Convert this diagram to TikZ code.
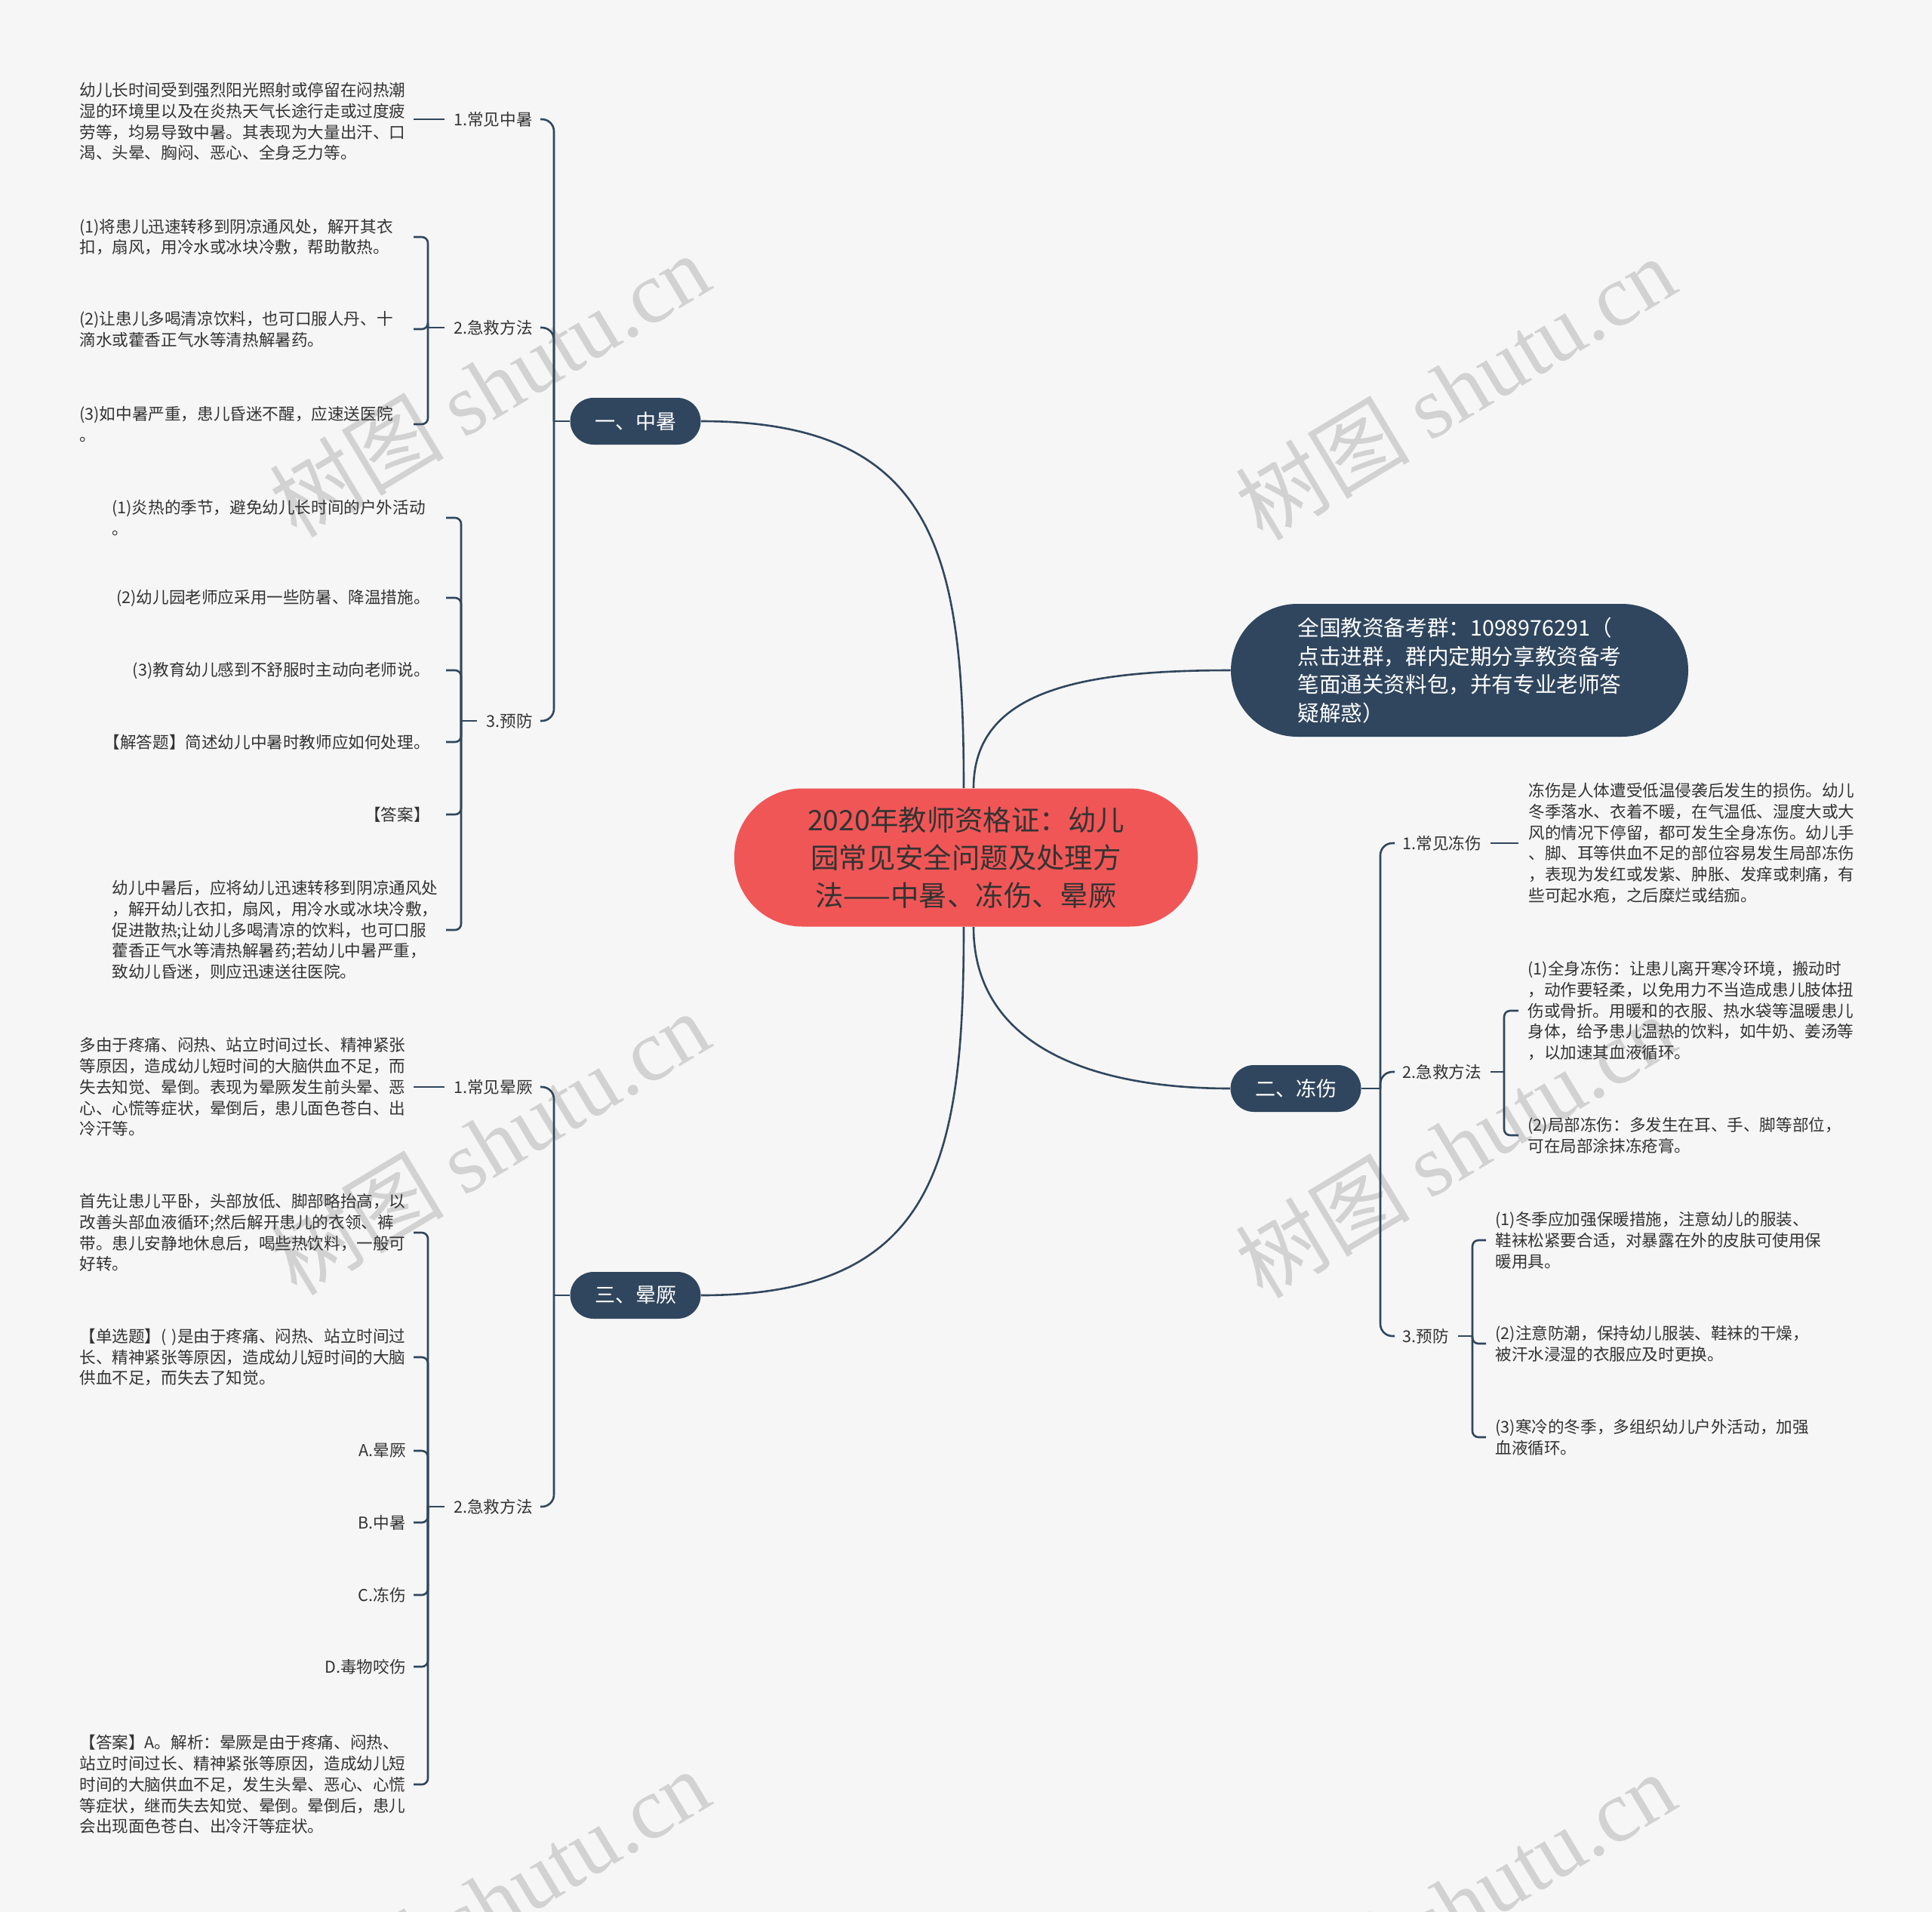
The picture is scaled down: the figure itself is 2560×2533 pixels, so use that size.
\documentclass[tikz,border=0pt]{standalone}
\usepackage{fontspec}
\setmainfont{Noto Sans CJK SC}
\newfontfamily\wmserif{Liberation Serif}
\definecolor{bgcol}{HTML}{F6F6F6}
\definecolor{navy}{HTML}{30465E}
\definecolor{rootred}{HTML}{F05656}
\definecolor{inkgray}{HTML}{333333}
\definecolor{wmgray}{HTML}{D2D2D2}

\begin{document}
\begin{tikzpicture}[
  x=0.5pt, y=-0.5pt,
  root/.style={
    fill=rootred, rounded corners=45pt, minimum width=307pt, minimum height=91.5pt,
    align=center, text=inkgray, font=\fontsize{18.7}{25}\selectfont,
  },
  topic/.style={
    fill=navy, text=white, rounded corners=15.5pt, minimum width=86.5pt,
    minimum height=31pt, font=\fontsize{13.5}{16}\selectfont,
  },
  group/.style={
    fill=navy, text=white, rounded corners=44pt, minimum width=303pt,
    minimum height=88pt, align=left, font=\fontsize{14.3}{18.75}\selectfont,
  },
  sub/.style={inner sep=0pt, text=inkgray, font=\fontsize{10.8}{13.9}\selectfont},
  leaf/.style={inner sep=0pt, text=inkgray, align=left, font=\fontsize{10.8}{13.9}\selectfont},
  para/.style={leaf, text width=220pt},
  link/.style={draw=navy, line width=1.3pt},
  brace/.style={link, rounded corners=4pt},
  trunk/.style={link, rounded corners=8pt},
  wmark/.style={text=wmgray, rotate=31, font=\fontsize{58}{60}\selectfont}
]
\useasboundingbox (0,0) rectangle (2560,2533);
\fill[bgcol] (0,0) rectangle (2560,2533);

% watermarks
\foreach \wx/\wy [count=\i] in {648/510, 1928/514, 648/1514, 1928/1518, 648/2518, 1928/2522}
  \node[wmark] (w\i) at (\wx,\wy) {树图 {\wmserif shutu.cn}};

% centre and main topics
\node[root] (root) at (1280,1136) {2020年教师资格证：幼儿\\园常见安全问题及处理方\\法——中暑、冻伤、晕厥};
\node[group] (n0) at (1934,888) {全国教资备考群：1098976291（\\点击进群，群内定期分享教资备考\\笔面通关资料包，并有专业老师答\\疑解惑）};
\node[topic] (n1) at (842,558) {一、中暑};
\node[topic] (n2) at (1717,1442) {二、冻伤};
\node[topic] (n3) at (842,1716) {三、晕厥};

% tick ends
\coordinate (ta) at (548,0);
\coordinate (tb) at (591,0);
\coordinate (tc) at (2012,0);
\coordinate (td) at (1969,0);

% 一、中暑
\coordinate (h1) at (734,558);
\node[sub, anchor=east] (a1) at (706,158) {1.常见中暑};
\node[sub, anchor=east] (a2) at (706,434) {2.急救方法};
\node[sub, anchor=east] (a3) at (706,955) {3.预防};
\node[para, anchor=west] (a1t) at (105,161) {幼儿长时间受到强烈阳光照射或停留在闷热潮\\湿的环境里以及在炎热天气长途行走或过度疲\\劳等，均易导致中暑。其表现为大量出汗、口\\渴、头晕、胸闷、恶心、全身乏力等。};
\coordinate (a2h) at (567,434);
\node[para, anchor=west] (a2a) at (105,314) {(1)将患儿迅速转移到阴凉通风处，解开其衣\\扣，扇风，用冷水或冰块冷敷，帮助散热。};
\node[para, anchor=west] (a2b) at (105,436) {(2)让患儿多喝清凉饮料，也可口服人丹、十\\滴水或藿香正气水等清热解暑药。};
\node[para, anchor=west] (a2c) at (105,562) {(3)如中暑严重，患儿昏迷不醒，应速送医院\\。};
\coordinate (a3h) at (611,955);
\node[para, anchor=west] (a3a) at (148,686) {(1)炎热的季节，避免幼儿长时间的户外活动\\。};
\node[leaf, anchor=east] (a3b) at (570,792) {(2)幼儿园老师应采用一些防暑、降温措施。};
\node[leaf, anchor=east] (a3c) at (570,888) {(3)教育幼儿感到不舒服时主动向老师说。};
\node[leaf, anchor=east] (a3d) at (570,983) {【解答题】简述幼儿中暑时教师应如何处理。};
\node[leaf, anchor=east] (a3e) at (570,1079) {【答案】};
\node[para, anchor=west] (a3f) at (148,1232) {幼儿中暑后，应将幼儿迅速转移到阴凉通风处\\，解开幼儿衣扣，扇风，用冷水或冰块冷敷，\\促进散热;让幼儿多喝清凉的饮料，也可口服\\藿香正气水等清热解暑药;若幼儿中暑严重，\\致幼儿昏迷，则应迅速送往医院。};

% 三、晕厥
\coordinate (h3) at (734,1716);
\node[sub, anchor=east] (b1) at (706,1440) {1.常见晕厥};
\node[sub, anchor=east] (b2) at (706,1996) {2.急救方法};
\node[para, anchor=west] (b1t) at (105,1440) {多由于疼痛、闷热、站立时间过长、精神紧张\\等原因，造成幼儿短时间的大脑供血不足，而\\失去知觉、晕倒。表现为晕厥发生前头晕、恶\\心、心慌等症状，晕倒后，患儿面色苍白、出\\冷汗等。};
\coordinate (b2h) at (567,1996);
\node[para, anchor=west] (b2a) at (105,1633) {首先让患儿平卧，头部放低、脚部略抬高，以\\改善头部血液循环;然后解开患儿的衣领、裤\\带。患儿安静地休息后，喝些热饮料，一般可\\好转。};
\node[para, anchor=west] (b2b) at (105,1798) {【单选题】( )是由于疼痛、闷热、站立时间过\\长、精神紧张等原因，造成幼儿短时间的大脑\\供血不足，而失去了知觉。};
\node[leaf, anchor=east] (b2c) at (538,1922) {A.晕厥};
\node[leaf, anchor=east] (b2d) at (538,2017) {B.中暑};
\node[leaf, anchor=east] (b2e) at (538,2113) {C.冻伤};
\node[leaf, anchor=east] (b2f) at (538,2208) {D.毒物咬伤};
\node[para, anchor=west] (b2g) at (105,2364) {【答案】A。解析：晕厥是由于疼痛、闷热、\\站立时间过长、精神紧张等原因，造成幼儿短\\时间的大脑供血不足，发生头晕、恶心、心慌\\等症状，继而失去知觉、晕倒。晕倒后，患儿\\会出现面色苍白、出冷汗等症状。};

% 二、冻伤
\coordinate (h2) at (1829,1442);
\node[sub, anchor=west] (c1) at (1858,1117) {1.常见冻伤};
\node[sub, anchor=west] (c2) at (1858,1420) {2.急救方法};
\node[sub, anchor=west] (c3) at (1858,1770) {3.预防};
\node[para, anchor=west] (c1t) at (2025,1117) {冻伤是人体遭受低温侵袭后发生的损伤。幼儿\\冬季落水、衣着不暖，在气温低、湿度大或大\\风的情况下停留，都可发生全身冻伤。幼儿手\\、脚、耳等供血不足的部位容易发生局部冻伤\\，表现为发红或发紫、肿胀、发痒或刺痛，有\\些可起水疱，之后糜烂或结痂。};
\coordinate (c2h) at (1993,1420);
\node[para, anchor=west] (c2a) at (2024,1339) {(1)全身冻伤：让患儿离开寒冷环境，搬动时\\，动作要轻柔，以免用力不当造成患儿肢体扭\\伤或骨折。用暖和的衣服、热水袋等温暖患儿\\身体，给予患儿温热的饮料，如牛奶、姜汤等\\，以加速其血液循环。};
\node[para, anchor=west] (c2b) at (2024,1504) {(2)局部冻伤：多发生在耳、手、脚等部位，\\可在局部涂抹冻疮膏。};
\coordinate (c3h) at (1951,1770);
\node[para, anchor=west] (c3a) at (1981,1643) {(1)冬季应加强保暖措施，注意幼儿的服装、\\鞋袜松紧要合适，对暴露在外的皮肤可使用保\\暖用具。};
\node[para, anchor=west] (c3b) at (1981,1780) {(2)注意防潮，保持幼儿服装、鞋袜的干燥，\\被汗水浸湿的衣服应及时更换。};
\node[para, anchor=west] (c3c) at (1981,1904) {(3)寒冷的冬季，多组织幼儿户外活动，加强\\血液循环。};

% curves from the centre
\draw[link] ([xshift=-1.5pt]root.north) .. controls +(0,-311) and +(311,0) .. (n1.east);
\draw[link] ([xshift=5pt]root.north) .. controls +(0,-131) and +(-194,0) .. (n0.west);
\draw[link] ([xshift=5pt]root.south) .. controls +(0,152) and +(-194,0) .. (n2.west);
\draw[link] ([xshift=-1.5pt]root.south) .. controls +(0,312) and +(311,0) .. (n3.east);

% braces, left
\draw[link] (n1.west) -- (h1);
\foreach \s in {a1,a2,a3}
  \draw[trunk] (h1) |- ([xshift=5pt]\s.east);
\draw[link] ([xshift=-6pt]a1.west) -- (a1.west -| ta);
\draw[link] ([xshift=-6pt]a2.west) -- (a2h);
\foreach \c in {a2a,a2b,a2c}
  \draw[brace] (a2h) |- (\c.east -| ta);
\draw[link] ([xshift=-6pt]a3.west) -- (a3h);
\foreach \c in {a3a,a3b,a3c,a3d,a3e,a3f}
  \draw[brace] (a3h) |- (\c.east -| tb);

\draw[link] (n3.west) -- (h3);
\foreach \s in {b1,b2}
  \draw[trunk] (h3) |- ([xshift=5pt]\s.east);
\draw[link] ([xshift=-6pt]b1.west) -- (b1.west -| ta);
\draw[link] ([xshift=-6pt]b2.west) -- (b2h);
\foreach \c in {b2a,b2b,b2c,b2d,b2e,b2f,b2g}
  \draw[brace] (b2h) |- (\c.east -| ta);

% braces, right
\draw[link] (n2.east) -- (h2);
\foreach \s in {c1,c2,c3}
  \draw[trunk] (h2) |- ([xshift=-5pt]\s.west);
\draw[link] ([xshift=6pt]c1.east) -- (c1.east -| tc);
\draw[link] ([xshift=6pt]c2.east) -- (c2h);
\foreach \c in {c2a,c2b}
  \draw[brace] (c2h) |- (\c.west -| tc);
\draw[link] ([xshift=6pt]c3.east) -- (c3h);
\foreach \c in {c3a,c3b,c3c}
  \draw[brace] (c3h) |- (\c.west -| td);

\end{tikzpicture}
\end{document}
